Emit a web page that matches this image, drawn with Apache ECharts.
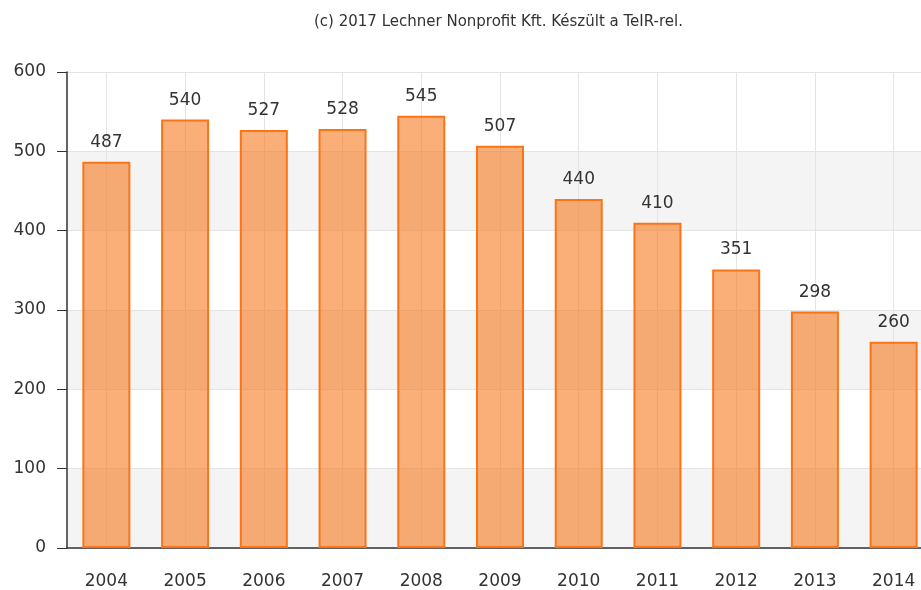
<!DOCTYPE html>
<html>
<head>
<meta charset="utf-8">
<script src="https://cdn.jsdelivr.net/npm/echarts@6/dist/echarts.min.js"></script>
<style>
  html, body { margin: 0; padding: 0; background: #fff; overflow: hidden; }
  /* chart is a bit wider than the window: the last bar is cut off on the right */
  #chart { width: 933px; height: 590px; }
</style>
</head>
<body>
<div id="chart"></div>
<script>
// evek (kategoriak)
var years = ['2004', '2005', '2006', '2007', '2008', '2009', '2010', '2011', '2012', '2013', '2014'];
// ertekek
var values = [487, 540, 527, 528, 545, 507, 440, 410, 351, 298, 260];
var yMin = 0, yMax = 600, yStep = 100;
var titleText = '(c) 2017 Lechner Nonprofit Kft. Készült a TeIR-rel.';

var myChart = echarts.init(document.getElementById('chart'));
var font = 'DejaVu Sans, Verdana, sans-serif';

var option = {
    animation: false,
    title: {
        text: titleText,
        left: 309,
        top: 10,
        textStyle: { fontFamily: font, fontSize: 15, fontWeight: 'normal', color: '#333' }
    },
    grid: { left: 67, top: 72, bottom: 42, right: 0 },
    xAxis: {
        type: 'category',
        data: years,
        axisLine: { lineStyle: { color: '#333', width: 1.5 } },
        axisTick: { alignWithLabel: true, length: 6, lineStyle: { color: '#333' } },
        axisLabel: { color: '#333', fontFamily: font, fontSize: 17, margin: 25 },
        splitLine: { show: true, alignWithLabel: true, lineStyle: { color: '#e4e4e4' } }
    },
    yAxis: {
        type: 'value',
        min: yMin,
        max: yMax,
        interval: yStep,
        axisLine: { show: true, lineStyle: { color: '#333', width: 1.5 } },
        axisTick: { show: true, length: 10, lineStyle: { color: '#333' } },
        axisLabel: { color: '#333', fontFamily: font, fontSize: 17, margin: 21 },
        splitLine: { lineStyle: { color: '#e4e4e4' } },
        splitArea: { show: true, areaStyle: { color: ['#f4f4f4', '#ffffff'] } }
    },
    series: [{
        type: 'bar',
        data: values,
        barWidth: 48,
        itemStyle: {
            color: 'rgba(246,118,24,0.58)',
            borderColor: '#fa7418',
            borderWidth: 2
        },
        label: {
            show: true,
            position: 'top',
            distance: 11,
            color: '#333',
            fontFamily: font,
            fontSize: 17
        }
    }]
};
myChart.setOption(option);
</script>
</body>
</html>
